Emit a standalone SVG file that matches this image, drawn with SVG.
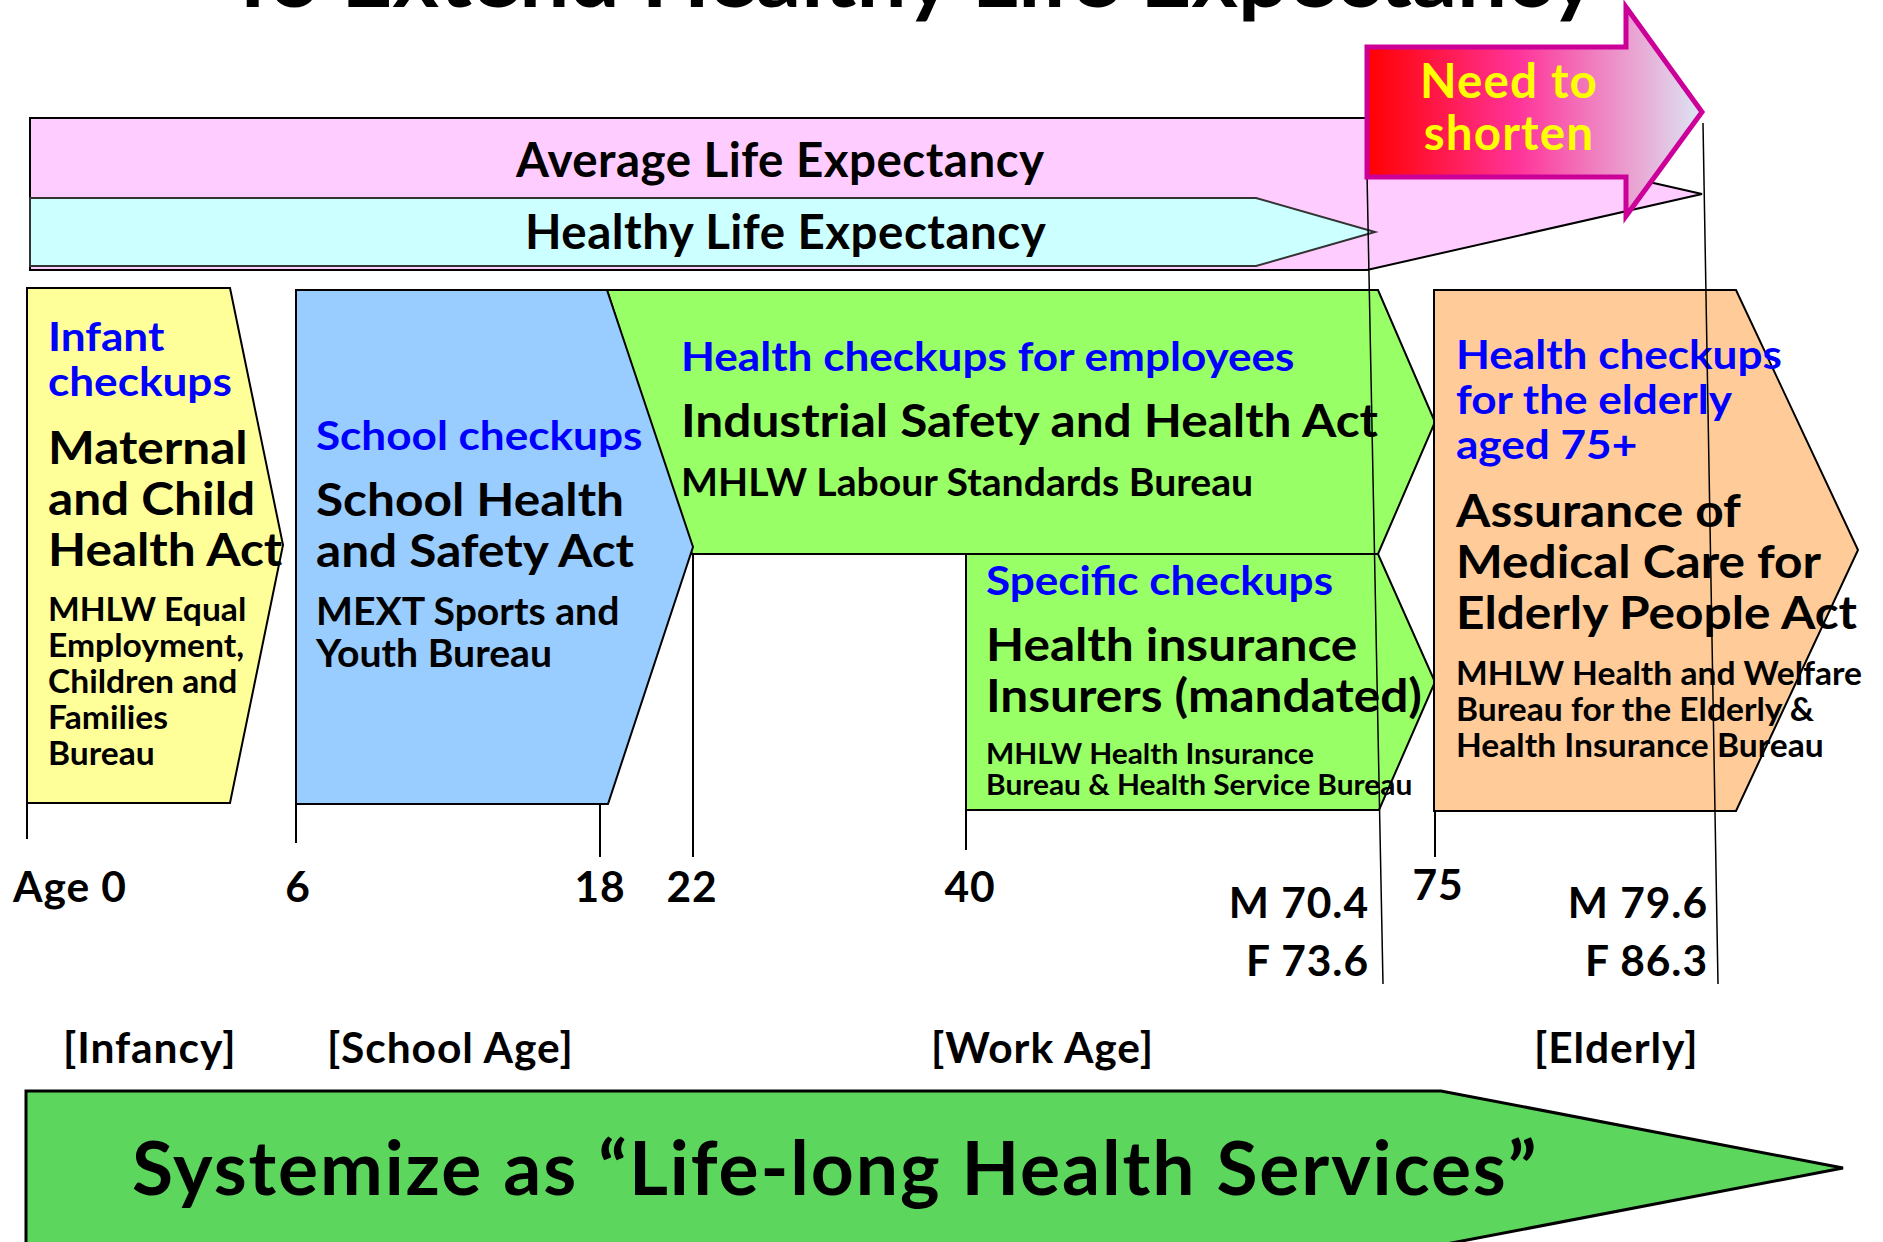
<svg xmlns="http://www.w3.org/2000/svg" width="1883" height="1242" viewBox="0 0 1883 1242">
<defs>
<style>
text{font-family:Lato,"Liberation Sans",sans-serif;font-weight:bold;fill:#000}
.blue{fill:#0000FF;font-size:40.5px}
.act{font-size:46px}
.bur{font-size:32.5px}
.bur2{font-size:37.5px}
.bur3{font-size:28px}
.band{font-size:47.5px;letter-spacing:0.01em}
.age{font-size:42.5px;letter-spacing:0.022em}
.need{font-size:47.5px;letter-spacing:0.025em;fill:#FFFF00}
.big{font-size:75px;letter-spacing:0.025em}
.box{stroke:#000;stroke-width:2;stroke-linejoin:miter}
.tick{stroke:#000;stroke-width:2;fill:none}
.thin{stroke:#000;stroke-width:1.5;fill:none}
</style>
<linearGradient id="redgrad" x1="1367" y1="0" x2="1702" y2="0" gradientUnits="userSpaceOnUse">
<stop offset="0" stop-color="#FF0000"/>
<stop offset="0.45" stop-color="#FF3399"/>
<stop offset="1" stop-color="#DCE6F4"/>
</linearGradient>
</defs>
<rect width="1883" height="1242" fill="#FFFFFF"/>

<g id="title">
<text x="226" y="7" font-size="84.5" textLength="1371" lengthAdjust="spacingAndGlyphs">To Extend Healthy Life Expectancy</text>
</g>

<g id="average-life">
<polygon class="box" points="30,118 1367,118 1702,194 1367,270 30,270" fill="#FFCCFF"/>
<text class="band" x="516" y="177">Average Life Expectancy</text>
</g>

<g id="healthy-life">
<polygon points="30,198 1256,198 1375,232 1256,266 30,266" fill="#CCFFFF" stroke="#333" stroke-width="2"/>
<text class="band" x="525" y="249">Healthy Life Expectancy</text>
</g>

<g id="infancy">
<polygon class="box" points="27,288 230,288 283,545 230,803 27,803" fill="#FFFF99"/>
<g transform="matrix(1.089,0,0,1,-4.272,0)">
<text class="blue" x="48" y="351">Infant</text>
<text class="blue" x="48" y="396">checkups</text>
</g>
<g transform="matrix(1.078,0,0,1,-3.744,0)">
<text class="act" x="48" y="464">Maternal</text>
<text class="act" x="48" y="515">and Child</text>
<text class="act" x="48" y="566">Health Act</text>
</g>
<g transform="matrix(1.034,0,0,1,-1.632,0)">
<text class="bur" x="48" y="621">MHLW Equal</text>
<text class="bur" x="48" y="657">Employment,</text>
<text class="bur" x="48" y="693">Children and</text>
<text class="bur" x="48" y="729">Families</text>
<text class="bur" x="48" y="765">Bureau</text>
</g>
</g>

<g id="work-employees">
<polygon class="box" points="607,290 1378,290 1435,422 1378,554 692,554" fill="#99FF66"/>
<text class="blue" x="681" y="371" transform="matrix(1.089,0,0,1,-60.609,0)">Health checkups for employees</text>
<text class="act" x="681" y="437" transform="matrix(1.078,0,0,1,-53.118,0)">Industrial Safety and Health Act</text>
<text class="bur2" x="681" y="496" transform="matrix(1.044,0,0,1,-29.964,0)">MHLW Labour Standards Bureau</text>
</g>

<g id="school">
<polygon class="box" points="296,290 607,290 693,547 608,804 296,804" fill="#99CCFF"/>
<text class="blue" x="316" y="450" transform="matrix(1.089,0,0,1,-28.124,0)">School checkups</text>
<g transform="matrix(1.078,0,0,1,-24.648,0)">
<text class="act" x="316" y="516">School Health</text>
<text class="act" x="316" y="567">and Safety Act</text>
</g>
<g transform="matrix(1.044,0,0,1,-13.904,0)">
<text class="bur2" x="316" y="625">MEXT Sports and</text>
<text class="bur2" x="316" y="667">Youth Bureau</text>
</g>
</g>

<g id="specific">
<polygon class="box" points="966,554 1378,554 1435,682 1379,810 966,810" fill="#99FF66"/>
<text class="blue" x="986" y="595" transform="matrix(1.089,0,0,1,-87.754,0)">Specific checkups</text>
<g transform="matrix(1.078,0,0,1,-76.908,0)">
<text class="act" x="986" y="661">Health insurance</text>
<text class="act" x="986" y="712">Insurers (mandated)</text>
</g>
<g transform="matrix(1.067,0,0,1,-66.062,0)">
<text class="bur3" x="986" y="764">MHLW Health Insurance</text>
<text class="bur3" x="986" y="795">Bureau &amp; Health Service Bureau</text>
</g>
</g>

<g id="elderly">
<polygon class="box" points="1434,290 1736,290 1858,550 1736,811 1434,811" fill="#FFCC99"/>
<g transform="matrix(1.089,0,0,1,-129.584,0)">
<text class="blue" x="1456" y="369">Health checkups</text>
<text class="blue" x="1456" y="414">for the elderly</text>
<text class="blue" x="1456" y="459">aged 75+</text>
</g>
<g transform="matrix(1.078,0,0,1,-113.568,0)">
<text class="act" x="1456" y="527">Assurance of</text>
<text class="act" x="1456" y="578">Medical Care for</text>
<text class="act" x="1456" y="629">Elderly People Act</text>
</g>
<g transform="matrix(1.034,0,0,1,-49.504,0)">
<text class="bur" x="1456" y="685">MHLW Health and Welfare</text>
<text class="bur" x="1456" y="721">Bureau for the Elderly &amp;</text>
<text class="bur" x="1456" y="757">Health Insurance Bureau</text>
</g>
</g>

<g id="connectors">
<line class="tick" x1="27" y1="803" x2="27" y2="839"/>
<line class="tick" x1="296" y1="804" x2="296" y2="843"/>
<line class="tick" x1="600" y1="804" x2="600" y2="857"/>
<line class="tick" x1="693" y1="554" x2="693" y2="857"/>
<line class="tick" x1="966" y1="810" x2="966" y2="850"/>
<line class="tick" x1="1435" y1="811" x2="1435" y2="857"/>
<line class="thin" x1="1366" y1="123" x2="1383" y2="984"/>
<line class="thin" x1="1703" y1="123" x2="1718" y2="984"/>
</g>

<g id="need-to-shorten">
<polygon points="1367,47 1626,47 1626,7 1702,112 1626,216 1626,177 1367,177" fill="url(#redgrad)" stroke="#CC0099" stroke-width="5"/>
<text class="need" x="1509" y="98" text-anchor="middle">Need to</text>
<text class="need" x="1509" y="150" text-anchor="middle">shorten</text>
</g>

<g id="age-labels">
<text class="age" x="13" y="902">Age 0</text>
<text class="age" x="298" y="902" text-anchor="middle">6</text>
<text class="age" x="600" y="902" text-anchor="middle">18</text>
<text class="age" x="692" y="902" text-anchor="middle">22</text>
<text class="age" x="970" y="902" text-anchor="middle">40</text>
<text class="age" x="1438" y="900" text-anchor="middle">75</text>
<text class="age" x="1369" y="918" text-anchor="end">M 70.4</text>
<text class="age" x="1369" y="976" text-anchor="end">F 73.6</text>
<text class="age" x="1708" y="918" text-anchor="end">M 79.6</text>
<text class="age" x="1708" y="976" text-anchor="end">F 86.3</text>
<text class="age" x="63" y="1063">[Infancy]</text>
<text class="age" x="327" y="1063">[School Age]</text>
<text class="age" x="931" y="1063">[Work Age]</text>
<text class="age" x="1534" y="1063">[Elderly]</text>
</g>

<g id="life-long">
<polygon points="26,1091 1441,1091 1843,1168 1441,1245 26,1245" fill="#5DD65D" stroke="#000" stroke-width="3"/>
<text class="big" x="132" y="1195">Systemize as “Life-long Health Services”</text>
</g>
</svg>
